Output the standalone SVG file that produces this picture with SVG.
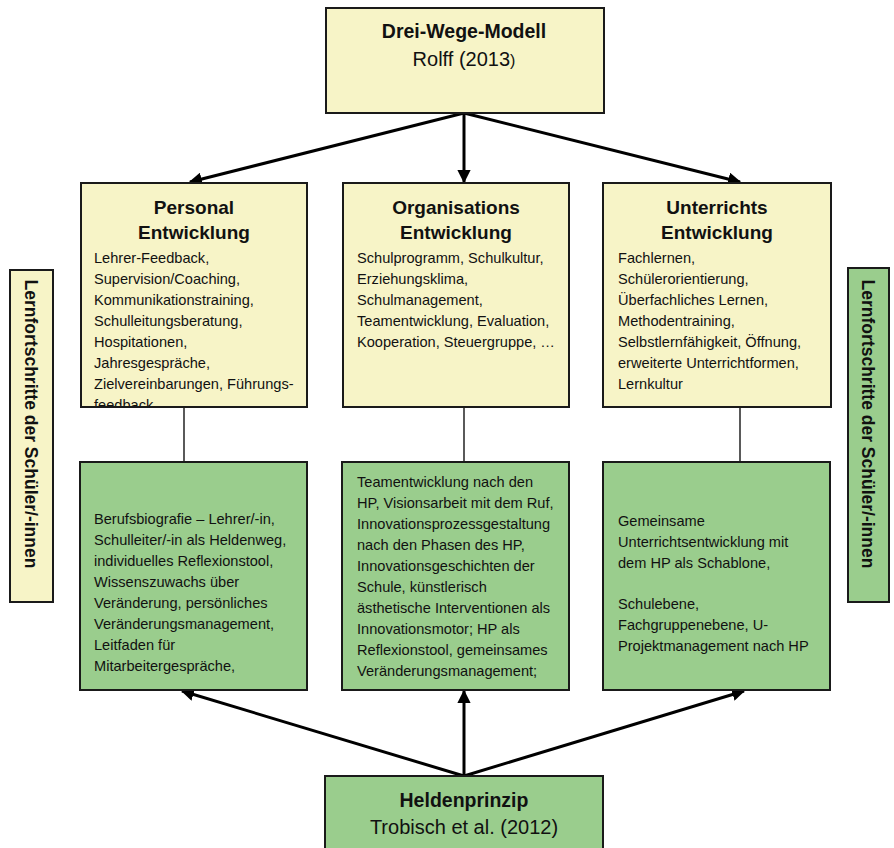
<svg xmlns="http://www.w3.org/2000/svg" width="894" height="848" viewBox="0 0 894 848">
<style>
.y{fill:#F7F4C7;stroke:#1a1a1a;stroke-width:2}
.g{fill:#9ACD8D;stroke:#1a1a1a;stroke-width:2}
text{font-family:"Liberation Sans",Arial,sans-serif;fill:#111}
.t{font-size:20px;text-anchor:middle}
.tb{font-size:19.5px;font-weight:bold;text-anchor:middle}
.h{font-size:19px;font-weight:bold;text-anchor:middle}
.b{font-size:14.6px}
.s{font-size:17.5px;font-weight:bold}
.arr{stroke:#000;stroke-width:3;fill:none;marker-end:url(#ah)}
.ln{stroke:#000;stroke-width:1.3}
</style>
<defs>
<marker id="ah" viewBox="0 0 10 10" refX="9" refY="5" markerWidth="4.4" markerHeight="4.4" orient="auto" markerUnits="strokeWidth">
<path d="M0,0 L10,5 L0,10 z" fill="#000"/>
</marker>
<clipPath id="cpe"><rect x="81" y="184" width="226" height="222"/></clipPath>
</defs>
<rect width="894" height="848" fill="#fff"/>

<g id="connectors">
<line class="arr" x1="464" y1="113" x2="190" y2="182"/>
<line class="arr" x1="464" y1="113" x2="464" y2="182"/>
<line class="arr" x1="464" y1="113" x2="740" y2="182"/>
<line class="ln" x1="184" y1="407" x2="184" y2="462"/>
<line class="ln" x1="464" y1="407" x2="464" y2="462"/>
<line class="ln" x1="740" y1="407" x2="740" y2="462"/>
<line class="arr" x1="464" y1="776" x2="182" y2="691"/>
<line class="arr" x1="464" y1="776" x2="464" y2="691"/>
<line class="arr" x1="464" y1="776" x2="744" y2="691"/>
</g>

<g id="drei-wege-modell">
<rect class="y" x="326" y="8" width="278" height="105"/>
<text class="tb" x="464" y="38">Drei-Wege-Modell</text>
<text class="t" x="464" y="66">Rolff (2013<tspan font-size="16">)</tspan></text>
</g>

<g id="personal-entwicklung">
<rect class="y" x="81" y="183" width="226" height="224"/>
<text class="h" x="194" y="214">Personal</text>
<text class="h" x="194" y="239">Entwicklung</text>
<g clip-path="url(#cpe)">
<text class="b" x="94" y="263">Lehrer-Feedback,</text>
<text class="b" x="94" y="284">Supervision/Coaching,</text>
<text class="b" x="94" y="305">Kommunikationstraining,</text>
<text class="b" x="94" y="326">Schulleitungsberatung,</text>
<text class="b" x="94" y="347">Hospitationen,</text>
<text class="b" x="94" y="368">Jahresgespräche,</text>
<text class="b" x="94" y="389">Zielvereinbarungen, Führungs-</text>
<text class="b" x="94" y="410">feedback</text>
</g>
</g>

<g id="organisations-entwicklung">
<rect class="y" x="343" y="183" width="226" height="224"/>
<text class="h" x="456" y="214">Organisations</text>
<text class="h" x="456" y="239">Entwicklung</text>
<text class="b" x="357" y="263">Schulprogramm, Schulkultur,</text>
<text class="b" x="357" y="284">Erziehungsklima,</text>
<text class="b" x="357" y="305">Schulmanagement,</text>
<text class="b" x="357" y="326">Teamentwicklung, Evaluation,</text>
<text class="b" x="357" y="347">Kooperation, Steuergruppe, …</text>
</g>

<g id="unterrichts-entwicklung">
<rect class="y" x="603" y="183" width="228" height="224"/>
<text class="h" x="717" y="214">Unterrichts</text>
<text class="h" x="717" y="239">Entwicklung</text>
<text class="b" x="618" y="263">Fachlernen,</text>
<text class="b" x="618" y="284">Schülerorientierung,</text>
<text class="b" x="618" y="305">Überfachliches Lernen,</text>
<text class="b" x="618" y="326">Methodentraining,</text>
<text class="b" x="618" y="347">Selbstlernfähigkeit, Öffnung,</text>
<text class="b" x="618" y="368">erweiterte Unterrichtformen,</text>
<text class="b" x="618" y="389">Lernkultur</text>
</g>

<g id="hp-personal">
<rect class="g" x="80" y="462" width="227" height="228"/>
<text class="b" x="94" y="524">Berufsbiografie – Lehrer/-in,</text>
<text class="b" x="94" y="545">Schulleiter/-in als Heldenweg,</text>
<text class="b" x="94" y="566">individuelles Reflexionstool,</text>
<text class="b" x="94" y="587">Wissenszuwachs über</text>
<text class="b" x="94" y="608">Veränderung, persönliches</text>
<text class="b" x="94" y="629">Veränderungsmanagement,</text>
<text class="b" x="94" y="650">Leitfaden für</text>
<text class="b" x="94" y="671">Mitarbeitergespräche,</text>
</g>

<g id="hp-organisation">
<rect class="g" x="342" y="462" width="227" height="228"/>
<text class="b" x="357" y="487">Teamentwicklung nach den</text>
<text class="b" x="357" y="508">HP, Visionsarbeit mit dem Ruf,</text>
<text class="b" x="357" y="529">Innovationsprozessgestaltung</text>
<text class="b" x="357" y="550">nach den Phasen des HP,</text>
<text class="b" x="357" y="571">Innovationsgeschichten der</text>
<text class="b" x="357" y="592">Schule, künstlerisch</text>
<text class="b" x="357" y="613">ästhetische Interventionen als</text>
<text class="b" x="357" y="634">Innovationsmotor; HP als</text>
<text class="b" x="357" y="655">Reflexionstool, gemeinsames</text>
<text class="b" x="357" y="676">Veränderungsmanagement;</text>
</g>

<g id="hp-unterricht">
<rect class="g" x="603" y="462" width="227" height="228"/>
<text class="b" x="618" y="526">Gemeinsame</text>
<text class="b" x="618" y="547">Unterrichtsentwicklung mit</text>
<text class="b" x="618" y="568">dem HP als Schablone,</text>
<text class="b" x="618" y="609">Schulebene,</text>
<text class="b" x="618" y="630">Fachgruppenebene, U-</text>
<text class="b" x="618" y="651">Projektmanagement nach HP</text>
</g>

<g id="heldenprinzip">
<rect class="g" x="325" y="776" width="278" height="90"/>
<text class="tb" x="464" y="807">Heldenprinzip</text>
<text class="t" x="464" y="834">Trobisch et al. (2012)</text>
</g>

<g id="lernfortschritte-links">
<rect class="y" x="10" y="270" width="43" height="332"/>
<text class="s" transform="translate(25,424) rotate(90)" text-anchor="middle">Lernfortschritte der Schüler/-innen</text>
</g>

<g id="lernfortschritte-rechts">
<rect class="g" x="848" y="268" width="41" height="334"/>
<text class="s" transform="translate(862,424) rotate(90)" text-anchor="middle">Lernfortschritte der Schüler/-innen</text>
</g>
</svg>
